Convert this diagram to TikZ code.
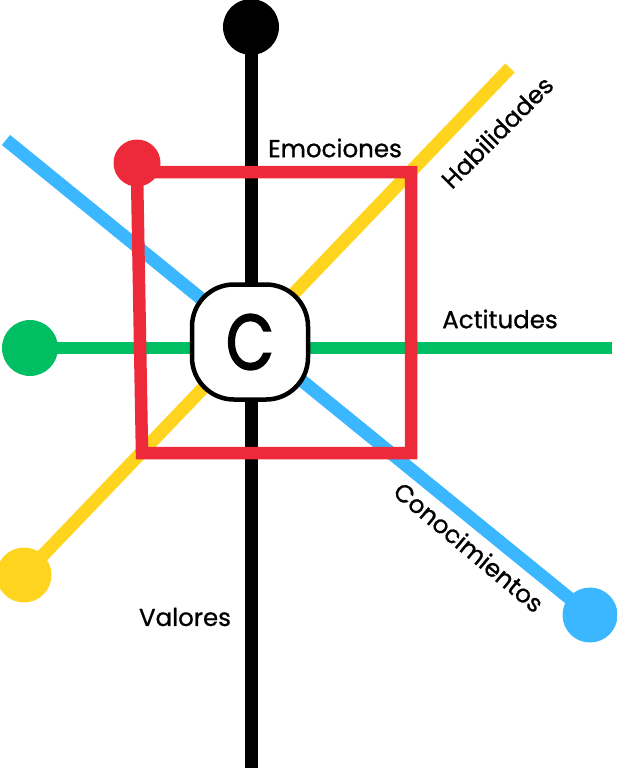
\documentclass[tikz,border=0pt]{standalone}
\usepackage{fontspec}
\setmainfont{Poppins}
\newfontfamily\lblfont{Poppins}[FakeBold=0.9]
\newfontfamily\bigfont{Poppins}[FakeBold=2.2]
\definecolor{cred}{HTML}{EC2A3A}
\definecolor{cgreen}{HTML}{00BF63}
\definecolor{cyellow}{HTML}{FFD41F}
\definecolor{cblue}{HTML}{3BB7FF}
\begin{document}
\begin{tikzpicture}[x=1pt,y=-1pt,
  ln/.style={line width=13pt},
  dot/.style={circle, inner sep=0pt, minimum size=#1},
  lbl/.style={font=\lblfont\fontsize{24.5}{28}\selectfont, inner sep=0pt}]
\useasboundingbox (0,0) rectangle (616,768);
% black line
\node[dot=56pt, fill=black] (K) at (251,27) {};
\coordinate (K2) at (251,775);
\draw[ln, black] (K.center) -- (K2);
% green line
\node[dot=56pt, fill=cgreen] (G) at (30,348) {};
\coordinate (G2) at (612,348);
\draw[ln, line width=12pt, cgreen] (G.center) -- (G2);
% yellow line
\node[dot=55pt, fill=cyellow] (Y) at (24,575) {};
\coordinate (Y2) at (510,68);
\draw[ln, cyellow] (Y.center) -- (Y2);
% blue line
\node[dot=55pt, fill=cblue] (B) at (590,615) {};
\coordinate (B2) at (6,140);
\draw[ln, cblue] (B.center) -- (B2);
% centre node
\node[draw, line width=4.5pt, fill=white, rounded corners=42pt,
      minimum width=116pt, minimum height=115pt, inner sep=0pt,
      font=\bigfont\fontsize{78}{80}\selectfont] (C) at (250,342) {\scalebox{0.8}[1]{C}};
% red square
\coordinate (R1) at (137,172);
\coordinate (R2) at (411,172);
\coordinate (R3) at (411,453);
\coordinate (R4) at (142,453);
\draw[line width=12.5pt, cred, line join=miter] (R1) -- (R2) -- (R3) -- (R4) -- cycle;
\node[dot=47pt, fill=cred] (R) at (137,163) {};
% labels
\node[lbl] (lE) at (335,148) {Emociones};
\node[lbl] (lA) at (500,319) {Actitudes};
\node[lbl] (lV) at (185,617) {Valores};
\node[lbl, rotate=45] (lH) at (497,132) {Habilidades};
\node[lbl, rotate=-40] (lCo) at (469,547) {Conocimientos};
\end{tikzpicture}
\end{document}
